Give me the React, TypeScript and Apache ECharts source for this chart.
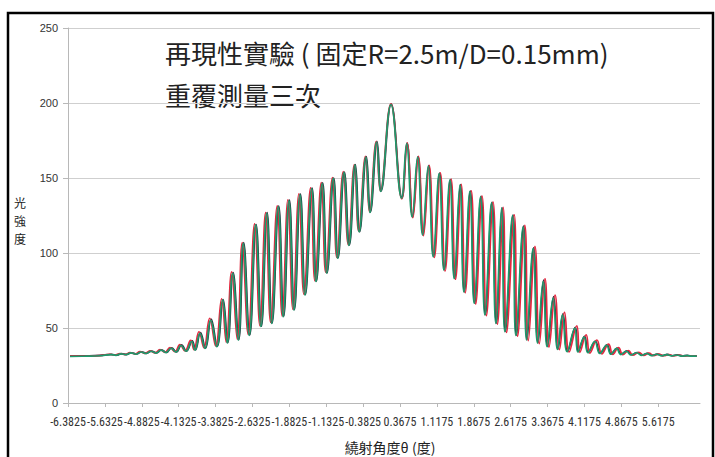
import React, { useEffect, useRef } from "react";
import * as echarts from "echarts";

// x tick labels (diffraction angle, degrees)
const xTickValues = [
  -6.3825, -5.6325, -4.8825, -4.1325, -3.3825, -2.6325, -1.8825, -1.1325, -0.3825,
  0.3675, 1.1175, 1.8675, 2.6175, 3.3675, 4.1175, 4.8675, 5.6175,
];
const xMin = -6.3825;
const xMax = 6.4675;
const yMin = 0;
const yMax = 250;
const yStep = 50;

const titleLine1 = "再現性實驗 ( 固定R=2.5m/D=0.15mm)";
const titleLine2 = "重覆測量三次";
const xAxisTitle = "繞射角度θ (度)";
const yAxisTitleChars = ["光", "強", "度"];

// run 1 (dark)
const run1: number[][] = [
  [-6.342,31.3],[-6.037,31.4],[-5.732,31.7],[-5.499,32.4],[-5.397,31.9],[-5.295,32.9],[-5.194,32.3],[-5.092,33.5],[-4.990,32.7],[-4.889,34.1],
  [-4.787,33.1],[-4.686,34.6],[-4.584,33.4],[-4.482,35.4],[-4.381,33.7],[-4.279,36.8],[-4.177,34.1],[-4.076,38.8],[-3.974,34.6],[-3.858,41.4],
  [-3.791,35.5],[-3.690,47.0],[-3.588,36.6],[-3.472,56.0],[-3.350,37.8],[-3.228,69.0],[-3.135,40.2],[-3.025,87.0],[-2.911,42.3],[-2.810,107.0],
  [-2.688,45.4],[-2.558,119.0],[-2.450,51.2],[-2.334,127.0],[-2.232,53.4],[-2.098,131.3],[-1.997,57.8],[-1.881,135.3],[-1.779,62.3],[-1.657,139.3],
  [-1.556,72.3],[-1.419,143.3],[-1.332,81.3],[-1.204,146.8],[-1.114,86.8],[-0.980,150.0],[-0.891,96.8],[-0.763,154.0],[-0.661,105.3],[-0.539,159.0],
  [-0.452,114.3],[-0.316,164.3],[-0.234,127.3],[-0.098,174.3],[-0.017,141.3],[0.188,199.3],[0.410,136.8],[0.512,173.3],[0.625,124.3],[0.735,164.3],
  [0.837,112.3],[0.951,158.3],[1.052,97.8],[1.174,153.3],[1.270,89.0],[1.392,149.0],[1.479,83.3],[1.595,145.6],[1.676,74.3],[1.798,141.3],
  [1.886,66.8],[2.016,137.8],[2.103,59.0],[2.239,133.8],[2.327,53.3],[2.442,130.3],[2.510,47.8],[2.666,125.3],[2.733,45.3],[2.881,118.0],
  [2.951,42.3],[3.085,103.5],[3.174,40.3],[3.288,82.0],[3.369,37.8],[3.491,71.0],[3.581,36.0],[3.682,59.5],[3.776,34.4],[3.932,50.5],
  [3.993,34.2],[4.121,44.5],[4.197,33.7],[4.339,41.3],[4.440,33.2],[4.577,38.8],[4.664,32.7],[4.780,36.6],[4.867,32.5],[4.983,34.7],
  [5.071,32.2],[5.192,33.6],[5.294,31.9],[5.396,33.1],[5.497,31.7],[5.599,32.6],[5.701,31.6],[5.802,32.4],[5.904,31.5],[6.005,32.1],
  [6.107,31.4],[6.209,31.7],[6.310,31.3],[6.402,31.4],
];

// run 2 (red)
const run2: number[][] = [
  [-6.342,31.2],[-6.037,31.3],[-5.732,31.6],[-5.529,32.5],[-5.427,31.9],[-5.325,33.0],[-5.224,32.3],[-5.122,33.6],[-5.020,32.7],[-4.919,34.2],
  [-4.817,33.1],[-4.716,34.8],[-4.614,33.4],[-4.512,35.6],[-4.411,33.8],[-4.309,37.0],[-4.207,34.2],[-4.106,39.0],[-4.004,34.8],[-3.888,41.8],
  [-3.821,35.6],[-3.720,47.5],[-3.618,36.8],[-3.502,56.5],[-3.380,38.0],[-3.258,69.5],[-3.165,40.5],[-3.055,87.5],[-2.941,42.5],[-2.840,107.0],
  [-2.718,45.8],[-2.588,119.5],[-2.480,51.5],[-2.364,127.0],[-2.262,53.8],[-2.128,131.5],[-2.027,58.0],[-1.911,135.5],[-1.809,62.5],[-1.687,139.5],
  [-1.586,72.5],[-1.449,143.5],[-1.362,81.5],[-1.232,147.0],[-1.142,87.0],[-1.005,150.2],[-0.916,97.0],[-0.786,154.2],[-0.684,105.5],[-0.560,159.0],
  [-0.472,114.5],[-0.334,164.5],[-0.252,127.5],[-0.114,174.5],[-0.032,141.5],[0.183,199.5],[0.405,136.0],[0.512,173.5],[0.630,123.5],[0.740,164.5],
  [0.845,111.5],[0.960,158.5],[1.065,97.0],[1.187,153.5],[1.285,88.0],[1.407,149.2],[1.496,82.5],[1.612,145.8],[1.694,73.5],[1.817,141.5],
  [1.906,66.0],[2.036,138.0],[2.124,58.2],[2.260,134.0],[2.349,52.5],[2.465,130.5],[2.534,47.0],[2.690,125.5],[2.758,44.5],[2.906,118.5],
  [2.977,41.5],[3.112,104.5],[3.201,39.5],[3.316,83.0],[3.397,37.2],[3.520,72.0],[3.610,35.6],[3.712,60.5],[3.806,34.0],[3.962,51.5],
  [4.024,33.8],[4.152,45.5],[4.228,33.3],[4.370,42.0],[4.471,32.8],[4.608,39.3],[4.695,32.4],[4.811,37.0],[4.898,32.2],[5.014,35.0],
  [5.102,31.9],[5.223,33.8],[5.325,31.7],[5.427,33.2],[5.528,31.6],[5.630,32.6],[5.732,31.5],[5.833,32.3],[5.935,31.4],[6.036,32.0],
  [6.138,31.3],[6.240,31.5],[6.340,31.2],[6.402,31.3],
];

// run 3 (green)
const run3: number[][] = [
  [-6.342,31.0],[-6.037,31.2],[-5.732,31.5],[-5.509,32.3],[-5.407,31.8],[-5.305,32.8],[-5.204,32.2],[-5.102,33.4],[-5.000,32.6],[-4.899,34.0],
  [-4.797,33.0],[-4.696,34.5],[-4.594,33.3],[-4.492,35.2],[-4.391,33.6],[-4.289,36.5],[-4.187,34.0],[-4.086,38.5],[-3.984,34.5],[-3.868,41.0],
  [-3.801,35.3],[-3.700,46.5],[-3.598,36.4],[-3.482,55.3],[-3.360,37.5],[-3.238,68.7],[-3.145,40.0],[-3.035,86.5],[-2.921,42.0],[-2.820,106.5],
  [-2.698,45.0],[-2.568,118.7],[-2.460,51.0],[-2.344,126.5],[-2.242,53.0],[-2.108,131.0],[-2.007,57.5],[-1.891,135.0],[-1.789,62.0],[-1.667,139.0],
  [-1.566,72.0],[-1.429,143.0],[-1.342,81.0],[-1.214,146.5],[-1.124,86.5],[-0.990,149.8],[-0.901,96.5],[-0.773,153.8],[-0.671,105.0],[-0.549,158.7],
  [-0.462,114.0],[-0.326,164.0],[-0.244,127.0],[-0.108,174.0],[-0.027,141.0],[0.183,199.0],[0.400,136.5],[0.502,173.0],[0.615,124.0],[0.725,164.0],
  [0.827,112.0],[0.941,158.0],[1.042,97.5],[1.164,153.0],[1.260,88.7],[1.382,148.7],[1.469,83.0],[1.585,145.3],[1.666,74.0],[1.788,141.0],
  [1.876,66.5],[2.006,137.5],[2.093,58.7],[2.229,133.5],[2.317,53.0],[2.432,130.0],[2.500,47.5],[2.656,125.0],[2.723,45.0],[2.871,117.5],
  [2.941,42.0],[3.075,103.0],[3.164,40.0],[3.278,81.0],[3.359,37.5],[3.481,70.0],[3.571,35.8],[3.672,58.7],[3.766,34.2],[3.922,50.0],
  [3.983,34.0],[4.111,44.0],[4.187,33.5],[4.329,41.0],[4.430,33.0],[4.567,38.5],[4.654,32.5],[4.770,36.4],[4.857,32.3],[4.973,34.5],
  [5.061,32.0],[5.182,33.5],[5.284,31.8],[5.386,33.0],[5.487,31.6],[5.589,32.5],[5.691,31.5],[5.792,32.3],[5.894,31.4],[5.995,32.0],
  [6.097,31.3],[6.199,31.6],[6.300,31.2],[6.402,31.3],
];

const seriesNames = ["第一次", "第二次", "第三次"];
const seriesColors = ["#2c2c3c", "#e4283f", "#1c9a6c"];

export default function App() {
  const ref = useRef<HTMLDivElement>(null);
  useEffect(() => {
    if (!ref.current) return;
    const chart = echarts.init(ref.current, undefined, { renderer: "svg" });
    const runs = [run1, run2, run3];
    const cjk = "'Noto Sans CJK TC', sans-serif";
    chart.setOption({
      animation: false,
      backgroundColor: "#ffffff",
      grid: { left: 68, right: 15, top: 28, bottom: 54, containLabel: false },
      xAxis: {
        type: "value",
        min: xMin,
        max: xMax,
        axisLine: { show: true, onZero: false, lineStyle: { color: "#b8b8b8", width: 1 } },
        axisTick: { show: true, customValues: xTickValues, length: 4, lineStyle: { color: "#b8b8b8" } },
        axisLabel: {
          customValues: xTickValues,
          formatter: (v: number) => String(v),
          fontSize: 12,
          fontFamily: "'Liberation Sans Narrow', 'Roboto Condensed', 'Arial Narrow', sans-serif",
          color: "#333333",
          margin: 13,
        },
        splitLine: { show: false },
      },
      yAxis: {
        type: "value",
        min: yMin,
        max: yMax,
        interval: yStep,
        axisLine: { show: true, onZero: false, lineStyle: { color: "#b8b8b8", width: 1 } },
        axisTick: { show: true, length: 5, lineStyle: { color: "#b8b8b8" } },
        axisLabel: {
          fontSize: 11,
          fontFamily: "'Liberation Sans', sans-serif",
          color: "#333333",
          margin: 10,
        },
        splitLine: { show: true, lineStyle: { color: "#cfcfcf", width: 1 } },
      },
      series: runs.map((d, i) => ({
        type: "line",
        name: seriesNames[i],
        data: d,
        showSymbol: false,
        smooth: 0.45,
        lineStyle: { color: seriesColors[i], width: 1.7 },
        itemStyle: { color: seriesColors[i] },
        z: 2 + i,
      })),
      graphic: [
        {
          type: "rect",
          shape: { x: 8, y: 13, width: 705, height: 470 },
          style: { fill: "none", stroke: "#000000", lineWidth: 2.5 },
          silent: true,
        },
        {
          type: "text",
          x: 165,
          y: 52,
          style: { text: titleLine1, fontSize: 26, fontFamily: cjk, fill: "#222222", verticalAlign: "middle" },
        },
        {
          type: "text",
          x: 165,
          y: 94,
          style: { text: titleLine2, fontSize: 26, fontFamily: cjk, fill: "#222222", verticalAlign: "middle" },
        },
        {
          type: "text",
          x: 390,
          y: 447,
          style: { text: xAxisTitle, fontSize: 14, fontFamily: cjk, fill: "#222222", align: "center", verticalAlign: "middle" },
        },
        ...yAxisTitleChars.map((ch, i) => ({
          type: "text",
          x: 20,
          y: 202 + i * 18,
          style: { text: ch, fontSize: 12, lineHeight: 12, fontFamily: cjk, fill: "#222222", align: "center", verticalAlign: "middle" },
        })),
      ],
    });
    return () => chart.dispose();
  }, []);
  return (
    <div
      ref={ref}
      style={{ position: "fixed", left: 0, top: 0, width: 715, height: 457, background: "#fff" }}
    />
  );
}
